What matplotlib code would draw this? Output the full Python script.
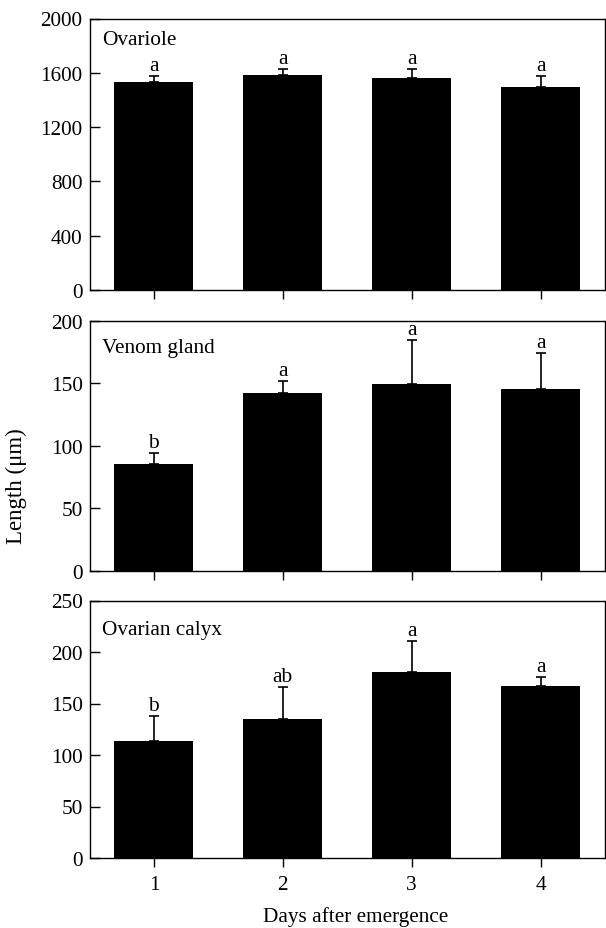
import matplotlib
matplotlib.use("Agg")
import matplotlib.pyplot as plt

plt.rcParams['font.family'] = ['Liberation Serif', 'DejaVu Serif']
plt.rcParams['font.size'] = 15

days = [1, 2, 3, 4]
day_labels = ["1", "2", "3", "4"]

ovariole_mean = [1534, 1584, 1562, 1493]
ovariole_upper = [1579, 1628, 1628, 1576]
ovariole_letters = ["a", "a", "a", "a"]

venom_mean = [85.5, 142.6, 149.7, 145.4]
venom_upper = [94.0, 152.1, 184.6, 174.4]
venom_letters = ["b", "a", "a", "a"]

calyx_mean = [113.9, 135.4, 180.5, 166.8]
calyx_upper = [138.2, 165.8, 210.8, 175.6]
calyx_letters = ["b", "ab", "a", "a"]

panel_titles = ["Ovariole", "Venom gland", "Ovarian calyx"]
y_limits = [2000, 200, 250]
y_steps = [400, 50, 50]

W, H = 606, 929
fig = plt.figure(figsize=(W / 100, H / 100), dpi=100)

# (top px, bottom px) of each panel
panel_px = [(19.5, 291.0), (321.7, 572.0), (601.5, 859.0)]
left_px, right_px = 89.5, 605.0
title_offsets = [25.5, 31.6, 33.5]

data = [
    (ovariole_mean, ovariole_upper, ovariole_letters),
    (venom_mean, venom_upper, venom_letters),
    (calyx_mean, calyx_upper, calyx_letters),
]

for i, ((top, bot), (means, uppers, letters)) in enumerate(zip(panel_px, data)):
    ax = fig.add_axes([left_px / W, 1 - bot / H, (right_px - left_px) / W, (bot - top) / H])
    ax.bar(days, means, width=0.613, color='black', edgecolor='none', zorder=2)
    errs = [u - m for u, m in zip(uppers, means)]
    ax.errorbar(days, means, yerr=[[0] * len(errs), errs], fmt='none',
                ecolor='black', elinewidth=1.2, capsize=3.5, capthick=1.2, zorder=3)
    for d, u, lab in zip(days, uppers, letters):
        ax.annotate(lab, xy=(d, u), xytext=(0, 6), textcoords='offset pixels',
                    ha='center', va='baseline', fontsize=15.5)
    ax.set_xlim(0.5, 4.5)
    ax.set_ylim(0, y_limits[i])
    ax.set_yticks(list(range(0, y_limits[i] + 1, y_steps[i])))
    ax.set_xticks(days)
    if i == 2:
        ax.set_xticklabels(day_labels)
    else:
        ax.set_xticklabels([])
    ax.tick_params(axis='y', direction='in', length=7.2, width=1.0, pad=5, labelsize=15.3)
    ax.tick_params(axis='x', direction='out', length=6.5, width=1.0, pad=6, labelsize=15.3)
    for s in ax.spines.values():
        s.set_linewidth(1.0)
    ax.annotate(panel_titles[i], xy=(0, 1), xycoords='axes fraction',
                xytext=(13, -title_offsets[i]), textcoords='offset pixels',
                ha='left', va='baseline', fontsize=15.3)

fig.text(16.7 / W, 1 - 486 / H, "Length (μm)", rotation=90, ha='center', va='center', fontsize=16.5)
fig.text(355.8 / W, 1 - 917 / H, "Days after emergence", ha='center', va='center', fontsize=15.3)

fig.savefig("out.png", dpi=100)
